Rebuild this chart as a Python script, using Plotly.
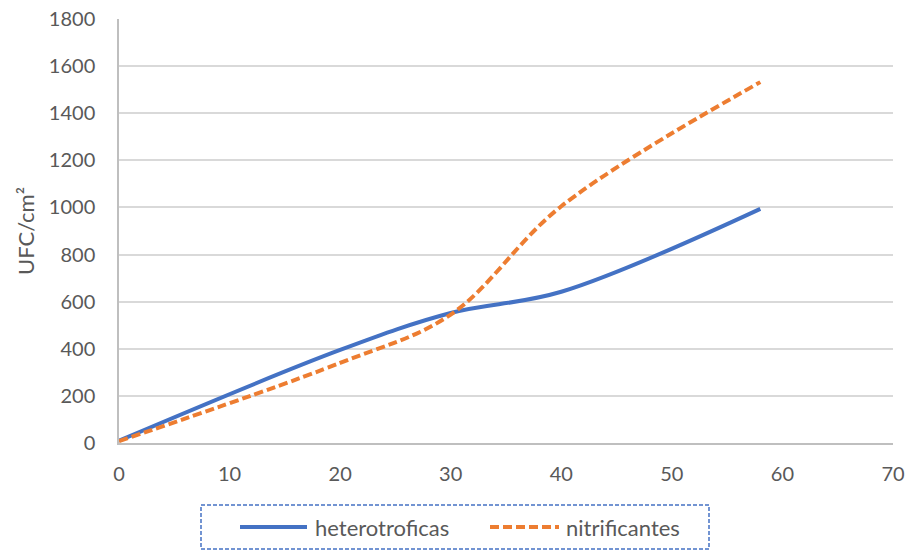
import plotly.graph_objects as go

# Sampling days and colony counts (UFC/cm²)
dias = [0, 20, 30, 40, 58]
heterotroficas = [10, 395, 552, 642, 994]
nitrificantes = [8, 340, 545, 1005, 1532]

x_ticks = [0, 10, 20, 30, 40, 50, 60, 70]
y_ticks = [0, 200, 400, 600, 800, 1000, 1200, 1400, 1600, 1800]

FONT = "Lato"
TEXT = "#595959"
BLUE = "#4472C4"
ORANGE = "#ED7D31"
ORANGE_DASH = "9px,4px"

# plot-area geometry in pixels, used to place the legend box below the axes
W, H = 909, 550
ML, MR, MT, MB = 119, 16, 19, 107
PW, PH = W - ML - MR, H - MT - MB


def px_x(x):
    return (x - ML) / PW


def px_y(y):
    return (H - MB - y) / PH


fig = go.Figure()
fig.add_trace(go.Scatter(
    x=dias, y=heterotroficas, name="heterotroficas", mode="lines",
    line=dict(color=BLUE, width=4, shape="spline", smoothing=1.0),
))
fig.add_trace(go.Scatter(
    x=dias, y=nitrificantes, name="nitrificantes", mode="lines",
    line=dict(color=ORANGE, width=4, shape="spline", smoothing=1.0, dash=ORANGE_DASH),
))

legend_y = px_y(527)
shapes = [
    # dashed legend frame
    dict(type="rect", xref="paper", yref="paper",
         x0=px_x(201), x1=px_x(709), y0=px_y(505), y1=px_y(549),
         line=dict(color="#4472C4", width=1.5, dash="4px,2px"),
         fillcolor="rgba(0,0,0,0)"),
    # legend keys
    dict(type="line", xref="paper", yref="paper",
         x0=px_x(240), x1=px_x(307), y0=legend_y, y1=legend_y,
         line=dict(color=BLUE, width=4)),
    dict(type="line", xref="paper", yref="paper",
         x0=px_x(490), x1=px_x(559), y0=legend_y, y1=legend_y,
         line=dict(color=ORANGE, width=4, dash=ORANGE_DASH)),
]
annotations = [
    dict(text="heterotroficas", xref="paper", yref="paper",
         x=px_x(313), y=legend_y, xanchor="left", yanchor="middle",
         showarrow=False, font=dict(family=FONT, size=22, color=TEXT)),
    dict(text="nitrificantes", xref="paper", yref="paper",
         x=px_x(564), y=legend_y, xanchor="left", yanchor="middle",
         showarrow=False, font=dict(family=FONT, size=22, color=TEXT)),
]

fig.update_layout(
    width=W, height=H,
    margin=dict(l=ML, r=MR, t=MT, b=MB),
    paper_bgcolor="white", plot_bgcolor="white",
    font=dict(family=FONT, size=20, color=TEXT),
    showlegend=False,
    shapes=shapes,
    annotations=annotations,
)

fig.update_xaxes(
    range=[0, 70], tickvals=x_ticks, ticktext=[str(v) for v in x_ticks],
    showgrid=False, zeroline=False, automargin=False,
    showline=True, linecolor="#bfbfbf", linewidth=1.5,
    ticks="", ticklabelstandoff=12,
    tickfont=dict(family=FONT, size=20, color=TEXT),
)
fig.update_yaxes(
    range=[0, 1800], tickvals=y_ticks, ticktext=[str(v) for v in y_ticks],
    showgrid=True, gridcolor="#d9d9d9", gridwidth=1.5, zeroline=False, automargin=False,
    showline=True, linecolor="#bfbfbf", linewidth=1.5,
    ticks="", ticklabelstandoff=18,
    tickfont=dict(family=FONT, size=20, color=TEXT),
    title=dict(text="UFC/cm²", font=dict(family=FONT, size=22, color=TEXT), standoff=8),
)

fig.write_html("out.html")
